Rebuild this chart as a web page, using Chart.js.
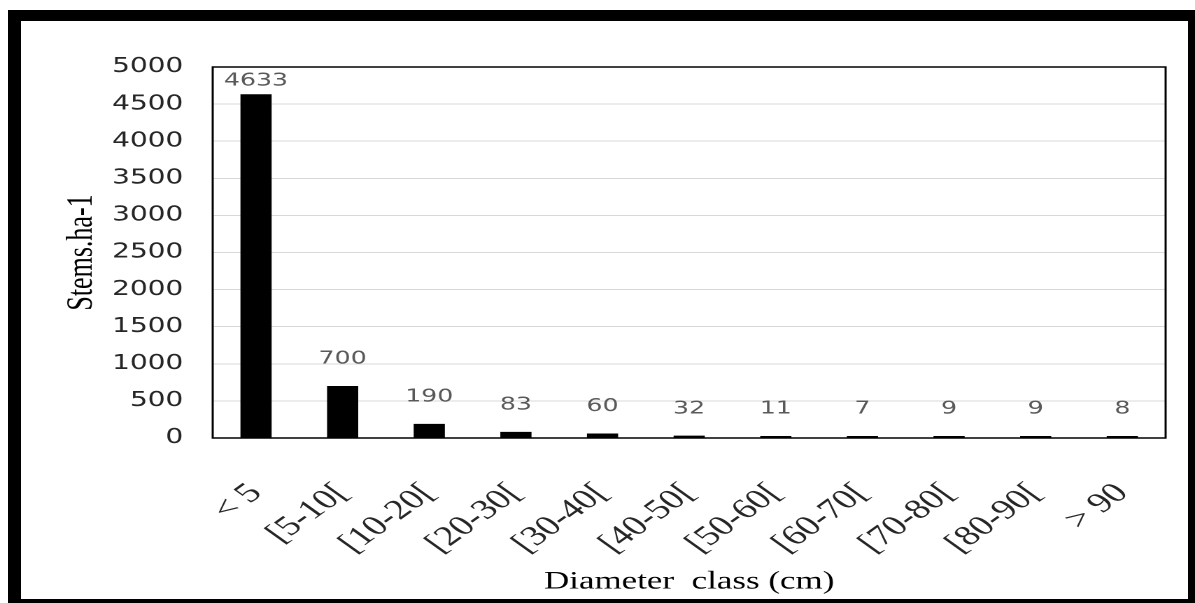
<!DOCTYPE html>
<html>
<head>
<meta charset="utf-8">
<title>Stems per hectare by diameter class</title>
<script src="https://cdn.jsdelivr.net/npm/chart.js@4.4.1/dist/chart.umd.min.js"></script>
<style>
    html, body { margin: 0; padding: 0; background: #fff; overflow: hidden; }
    body { width: 1195px; height: 603px; position: relative; }
    /* the original figure is stretched sideways, so the canvas is too */
    #chart { position: absolute; left: 0; top: 0; transform: scaleX(1.3993); transform-origin: 0 0; }
    #frame {
        position: absolute; left: 8px; top: 10px; width: 1187px; height: 593px;
        box-sizing: border-box; border-style: solid; border-color: #000;
        border-width: 11px 7px 4px 13px; pointer-events: none;
    }
</style>
</head>
<body>
<canvas id="chart" width="854" height="603"></canvas>
<div id="frame"></div>
<script>
// Data
const diameterClasses = ['< 5', '[5-10[', '[10-20[', '[20-30[', '[30-40[', '[40-50[', '[50-60[', '[60-70[', '[70-80[', '[80-90[', '> 90'];
const stemsPerHa = [4633, 700, 190, 83, 60, 32, 11, 7, 9, 9, 8];
const yTickValues = [0, 500, 1000, 1500, 2000, 2500, 3000, 3500, 4000, 4500, 5000];

// ==================== PLUGINS ====================
// black frame round the plot area
const plotFrame = {
    id: 'plotFrame',
    afterDraw(chart) {
        const { ctx, chartArea: a } = chart;
        ctx.save();
        ctx.strokeStyle = '#000';
        ctx.lineWidth = 1.5;
        ctx.strokeRect(a.left, a.top, a.right - a.left, a.bottom - a.top);
        ctx.restore();
    }
};

// value labels above the bars (kept inside the plot like Excel does)
const barValues = {
    id: 'barValues',
    afterDatasetsDraw(chart) {
        const { ctx, chartArea } = chart;
        const meta = chart.getDatasetMeta(0);
        ctx.save();
        ctx.font = '18px "DejaVu Sans"';
        ctx.fillStyle = '#595959';
        ctx.textAlign = 'center';
        ctx.textBaseline = 'middle';
        meta.data.forEach(function(bar, i) {
            const y = Math.max(bar.y - 27, chartArea.top + 14);
            ctx.fillText(String(stemsPerHa[i]), bar.x, y);
        });
        ctx.restore();
    }
};

// ==================== CHART ====================
new Chart(document.getElementById('chart'), {
    type: 'bar',
    data: {
        labels: diameterClasses,
        datasets: [{
            data: stemsPerHa,
            backgroundColor: '#000',
            borderWidth: 0,
            barPercentage: 0.36,
            categoryPercentage: 1,
            minBarLength: 2
        }]
    },
    options: {
        responsive: false,
        animation: false,
        devicePixelRatio: 2,
        layout: { padding: { top: 67, right: 21, left: 0, bottom: 0 } },
        plugins: {
            legend: { display: false },
            tooltip: { enabled: false }
        },
        scales: {
            x: {
                grid: { display: false, drawTicks: false },
                border: { display: false },
                ticks: {
                    autoSkip: false,
                    minRotation: 45,
                    maxRotation: 45,
                    padding: 39,
                    color: '#262626',
                    font: { family: '"Liberation Serif"', size: 28 }
                },
                title: {
                    display: true,
                    text: 'Diameter  class (cm)',
                    color: '#000',
                    font: { family: '"Liberation Serif"', size: 25 },
                    padding: { top: 0, bottom: 6 }
                },
                afterFit(scale) {
                    scale.height = 165;
                    // labels may run into the padding, keep the plot width fixed
                    scale.paddingLeft = 0;
                    scale.paddingRight = 0;
                }
            },
            y: {
                min: 0,
                max: 5000,
                grid: { color: '#d9d9d9', lineWidth: 1, drawTicks: false },
                border: { display: false },
                ticks: {
                    padding: 21,
                    color: '#262626',
                    font: { family: '"DejaVu Sans"', size: 20 },
                    callback: function(v) { return String(v); }
                },
                afterBuildTicks(scale) {
                    scale.ticks = yTickValues.map(v => ({ value: v }));
                },
                title: {
                    display: true,
                    text: 'Stems.ha-1',
                    color: '#000',
                    font: { family: '"Liberation Serif"', size: 26 },
                    padding: { top: 43, bottom: 0 }
                },
                afterFit(scale) { scale.width = 152; }
            }
        }
    },
    plugins: [plotFrame, barValues]
});
</script>
</body>
</html>
